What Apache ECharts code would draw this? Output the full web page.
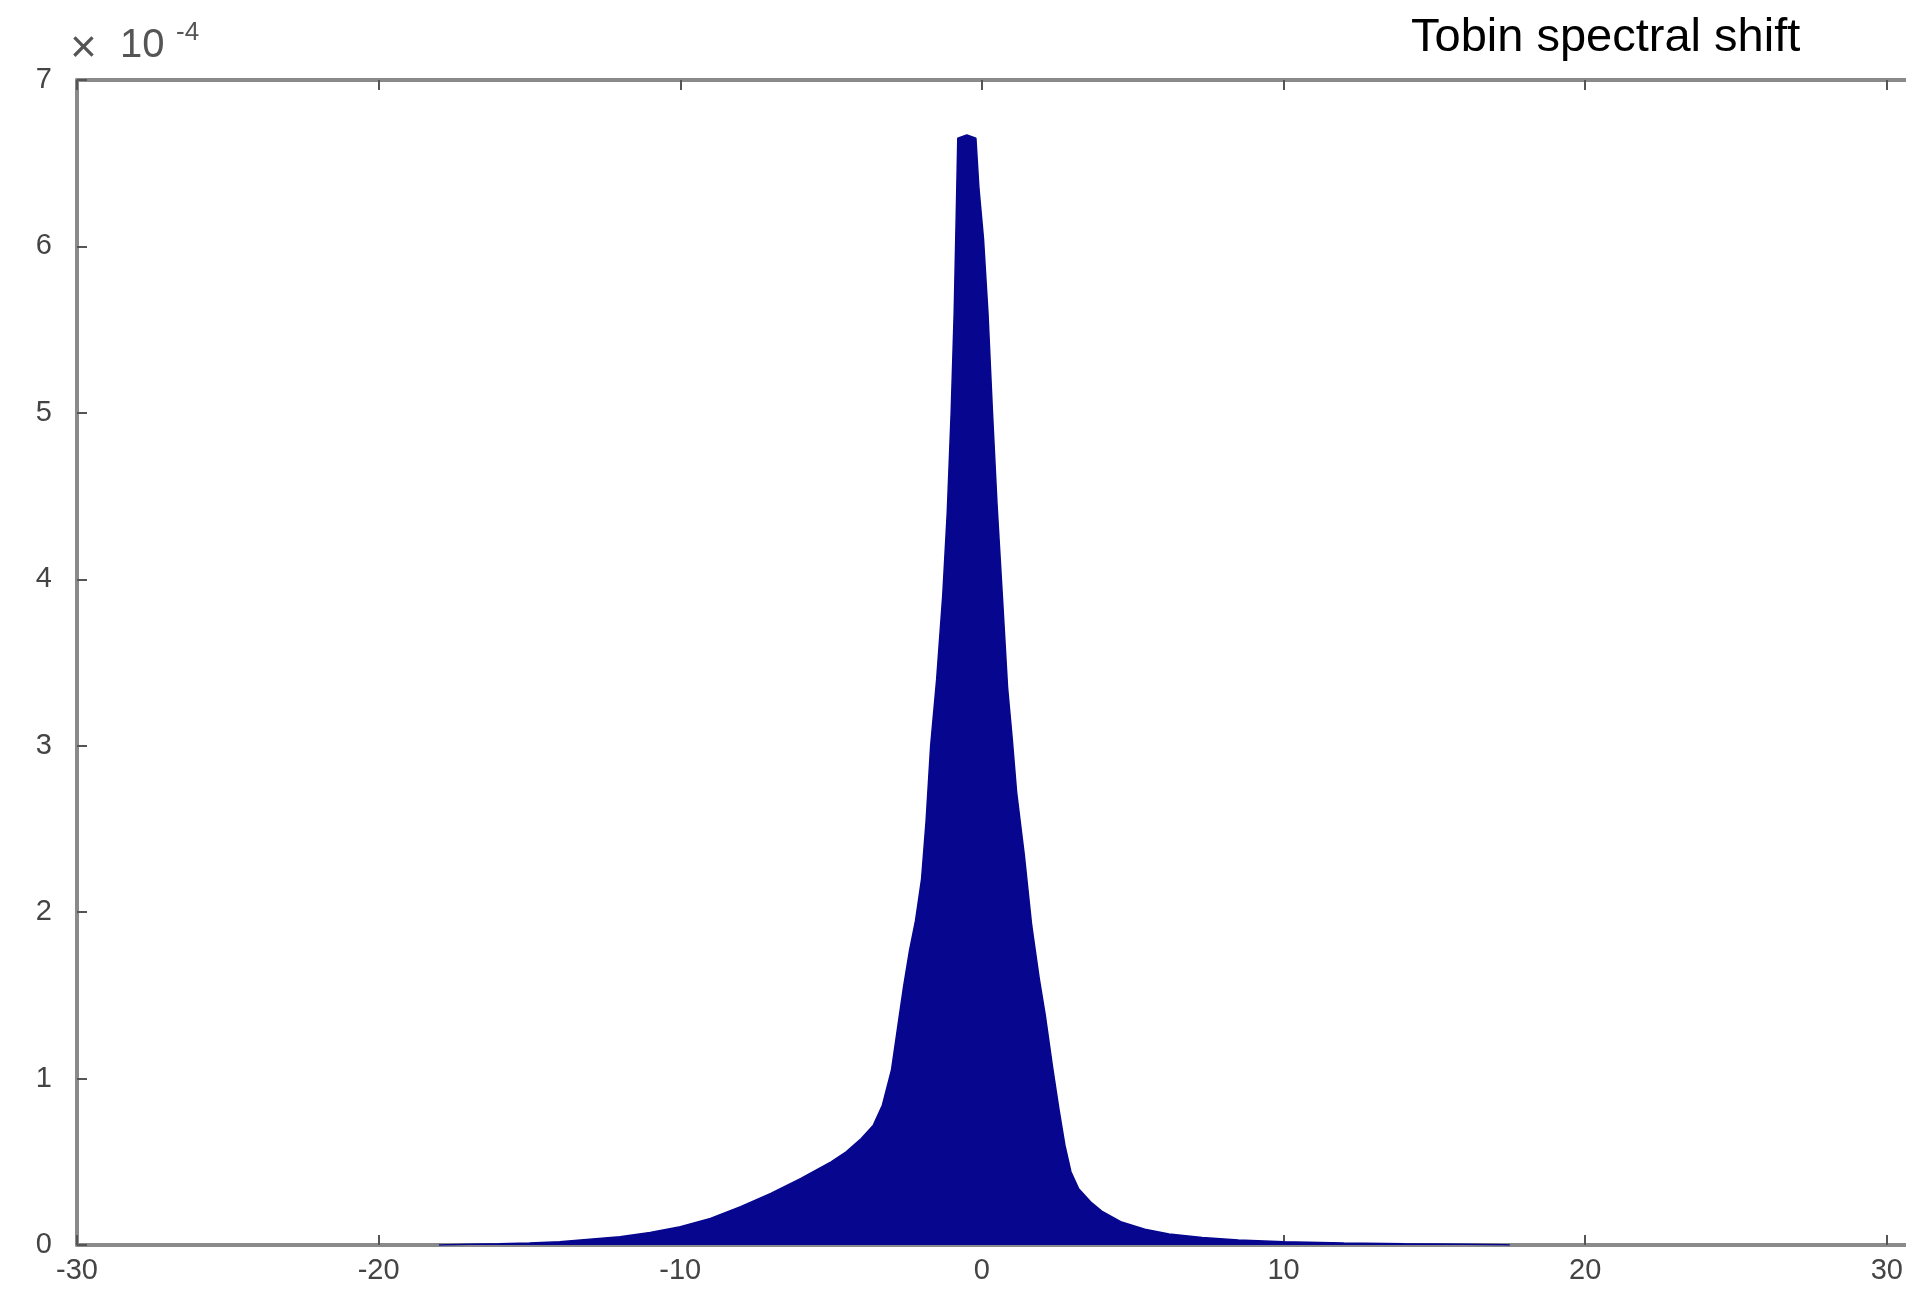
<!DOCTYPE html>
<html>
<head>
<meta charset="utf-8">
<script src="https://cdn.jsdelivr.net/npm/echarts@6/dist/echarts.min.js"></script>
<style>html,body{margin:0;padding:0;background:#fff;}#chart{width:1906px;height:1303px;}</style>
</head>
<body>
<div id="chart"></div>
<script>
// spectral shift (x) and density in units of 1e-4 (y)
const shiftValues = [-18.0, -17.0, -16.0, -15.0, -14.0, -13.0, -12.0, -11.0, -10.0, -9.0, -8.0, -7.0, -6.0, -5.0, -4.5, -4.0, -3.6, -3.3, -3.0, -2.8, -2.6, -2.4, -2.2, -2.0, -1.85, -1.7, -1.5, -1.3, -1.15, -1.02, -0.92, -0.85, -0.8, -0.5, -0.2, -0.1, 0.05, 0.2, 0.35, 0.5, 0.68, 0.85, 1.0, 1.15, 1.4, 1.65, 1.9, 2.1, 2.34, 2.55, 2.75, 2.95, 3.2, 3.6, 4.0, 4.6, 5.4, 6.2, 7.3, 8.5, 10.0, 12.0, 14.0, 16.0, 17.3, 17.5];
const densityValues = [0, 0.005, 0.008, 0.012, 0.02, 0.035, 0.05, 0.075, 0.11, 0.16, 0.23, 0.31, 0.40, 0.50, 0.56, 0.64, 0.72, 0.84, 1.05, 1.30, 1.55, 1.77, 1.95, 2.2, 2.55, 3.0, 3.4, 3.9, 4.4, 5.0, 5.6, 6.2, 6.65, 6.67, 6.65, 6.35, 6.05, 5.6, 5.0, 4.45, 3.89, 3.35, 3.05, 2.72, 2.35, 1.92, 1.6, 1.38, 1.07, 0.82, 0.6, 0.44, 0.34, 0.26, 0.2, 0.14, 0.095, 0.066, 0.045, 0.03, 0.02, 0.012, 0.007, 0.004, 0.002, 0];
const xTickValues = [-30, -20, -10, 0, 10, 20, 30];
const yTickValues = [0, 1, 2, 3, 4, 5, 6, 7];
const xAxisMax = 30.63;
const titleText = 'Tobin spectral shift';
const scaleTimes = '×';
const scaleBase = '10';
const scaleExp = '-4';

const seriesData = shiftValues.map((x, i) => [x, densityValues[i]]);
const chart = echarts.init(document.getElementById('chart'), null, {renderer: 'canvas'});

const axisLine = {show: true, onZero: false, lineStyle: {color: '#8a8a8a', width: 4}};
const xAxisTick = {show: true, inside: true, length: 10, customValues: xTickValues, lineStyle: {color: '#555', width: 2}};
const yAxisTick = {show: true, inside: true, length: 10, lineStyle: {color: '#555', width: 2}};
const labelStyle = {fontSize: 29, color: '#444', fontFamily: 'Liberation Sans'};
const scaleStyle = {fill: '#555', fontFamily: 'Liberation Sans'};

chart.setOption({
  animation: false,
  backgroundColor: '#fff',
  grid: {left: 77, right: 0, top: 80, bottom: 58, containLabel: false},
  title: {
    text: titleText, left: 1406, top: 10,
    textStyle: {fontSize: 47, fontWeight: 'normal', color: '#000', fontFamily: 'Liberation Sans'}
  },
  graphic: [
    {type: 'text', left: 70, top: 26, style: Object.assign({text: scaleTimes, fontSize: 46}, scaleStyle)},
    {type: 'text', left: 120, top: 26, style: Object.assign({text: scaleBase, fontSize: 40}, scaleStyle)},
    {type: 'text', left: 176, top: 20, style: Object.assign({text: scaleExp, fontSize: 26}, scaleStyle)}
  ],
  xAxis: [
    {type: 'value', position: 'bottom', min: xTickValues[0], max: xAxisMax, interval: 10,
      axisLine, axisTick: xAxisTick, splitLine: {show: false},
      axisLabel: Object.assign({margin: 11, customValues: xTickValues}, labelStyle)},
    {type: 'value', position: 'top', min: xTickValues[0], max: xAxisMax, interval: 10,
      axisLine, axisTick: xAxisTick, splitLine: {show: false}, axisLabel: {show: false}}
  ],
  yAxis: [
    {type: 'value', position: 'left', min: yTickValues[0], max: yTickValues[yTickValues.length - 1], interval: 1,
      axisLine, axisTick: yAxisTick, splitLine: {show: false},
      axisLabel: Object.assign({margin: 25}, labelStyle)},
    {type: 'value', position: 'right', min: yTickValues[0], max: yTickValues[yTickValues.length - 1], interval: 1,
      axisLine: {show: false}, axisTick: {show: false}, splitLine: {show: false}, axisLabel: {show: false}}
  ],
  series: [{
    type: 'line', xAxisIndex: 0, yAxisIndex: 0,
    data: seriesData, showSymbol: false, smooth: false,
    lineStyle: {color: '#06068f', width: 1.5},
    areaStyle: {color: '#06068f', opacity: 1},
    z: 1
  }]
});
</script>
</body>
</html>
